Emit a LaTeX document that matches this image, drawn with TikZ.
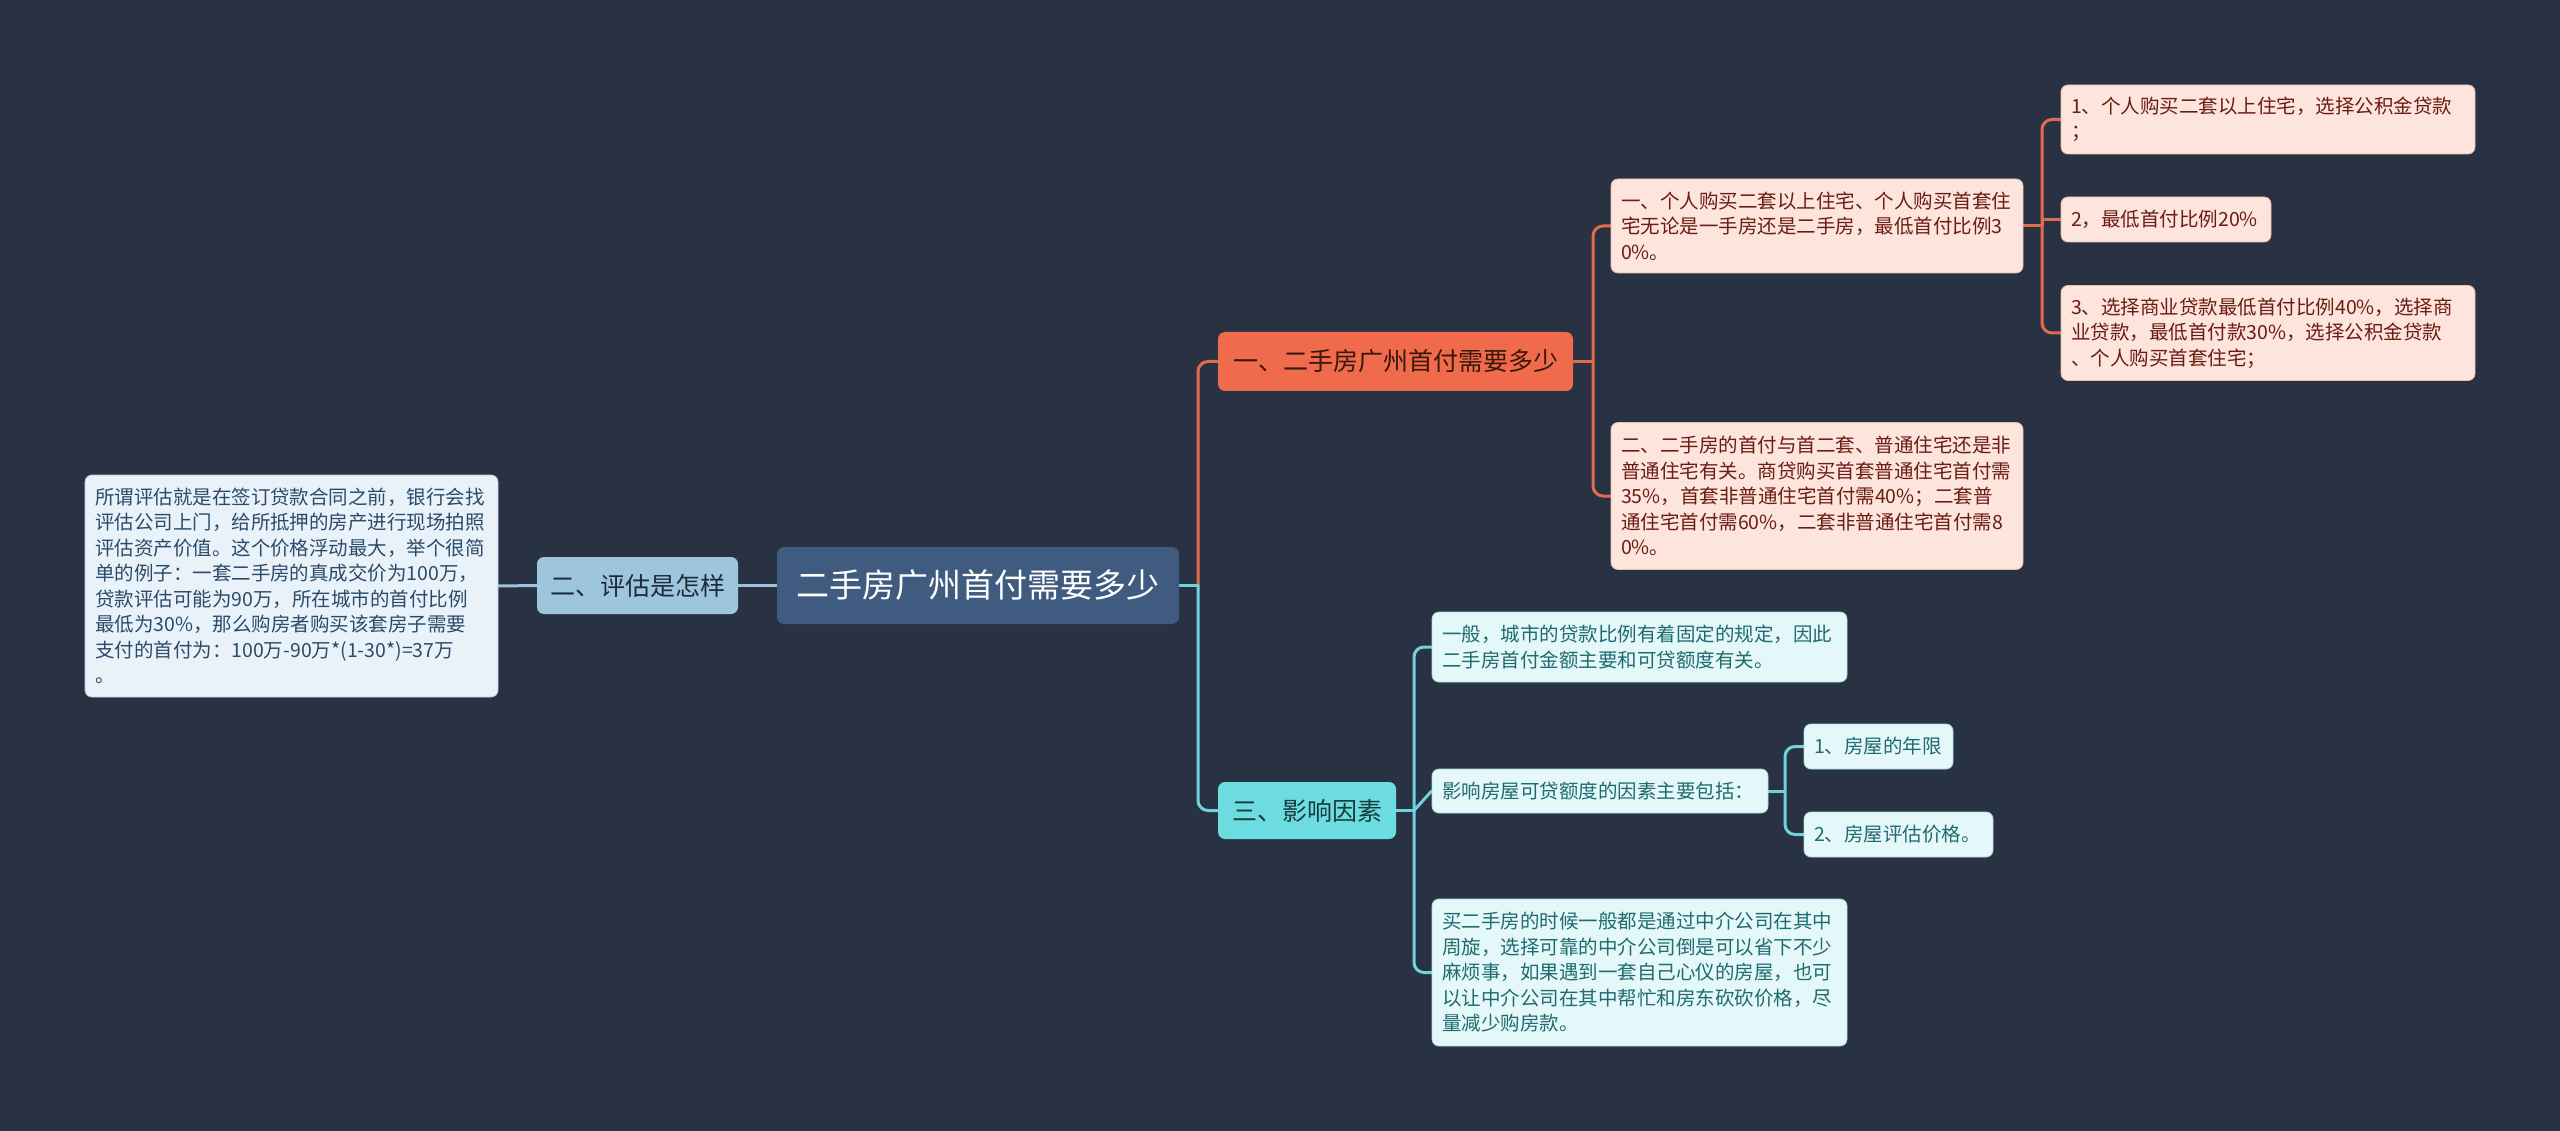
\documentclass[tikz,border=0pt]{standalone}
\usepackage{fontspec}
\usetikzlibrary{backgrounds}
\newfontfamily\cjk{Noto Sans CJK SC}
\definecolor{bg}{HTML}{283242}
\definecolor{rootfill}{HTML}{3F5B80}
\definecolor{bluefill}{HTML}{9EC5DE}
\definecolor{bluetext}{HTML}{1E2B3A}
\definecolor{paleblue}{HTML}{EAF2F9}
\definecolor{paleblueedge}{HTML}{B8CCDD}
\definecolor{palebluetext}{HTML}{2B4B6A}
\definecolor{coralfill}{HTML}{EF6B4B}
\definecolor{coraltext}{HTML}{3A160D}
\definecolor{pinkfill}{HTML}{FDE4DD}
\definecolor{pinkedge}{HTML}{E8BDB2}
\definecolor{pinktext}{HTML}{6B1D12}
\definecolor{cyanfill}{HTML}{6CDCE1}
\definecolor{cyantext}{HTML}{173A3E}
\definecolor{palecyan}{HTML}{E4F8F9}
\definecolor{palecyanedge}{HTML}{A9DDE0}
\definecolor{palecyantext}{HTML}{1F6B70}
\definecolor{coralline}{HTML}{E46A4C}
\definecolor{cyanline}{HTML}{6FD2DC}
\definecolor{blueline}{HTML}{9CC3DD}
\begin{document}
\begin{tikzpicture}[x=1pt,y=-1pt,
  base/.style={rounded corners=7pt, inner xsep=10pt, inner ysep=9pt},
  small/.style={base, align=left, font=\cjk\fontsize{19.5}{25.5}\selectfont},
  pinkbox/.style={small, fill=pinkfill, draw=pinkedge, line width=0.8pt, text=pinktext},
  cyanbox/.style={small, fill=palecyan, draw=palecyanedge, line width=0.8pt, text=palecyantext},
  leftbox/.style={small, fill=paleblue, draw=paleblueedge, line width=0.8pt, text=palebluetext},
  rootbox/.style={base, align=center, fill=rootfill, text=white, font=\cjk\fontsize{33}{40}\selectfont},
  mainbox/.style={base, align=center, font=\cjk\fontsize{25}{30}\selectfont},
  link/.style={line width=3pt, line cap=round},
  elbow/.style={link, rounded corners=10pt}
]
\useasboundingbox (0,0) rectangle (2560,1131);
\begin{scope}[on background layer]
\fill[bg] (0,0) rectangle (2560,1131);
\end{scope}

% ---- nodes ----
\node[rootbox, minimum width=402pt, minimum height=77pt] (root) at (978,585.5) {二手房广州首付需要多少};

\node[mainbox, fill=bluefill, text=bluetext, minimum width=201pt, minimum height=57pt] (n2) at (637.5,585.5) {二、评估是怎样};
\node[leftbox, text width=393pt, minimum height=222pt] (L) at (291.5,586) {所谓评估就是在签订贷款合同之前，银行会找\\评估公司上门，给所抵押的房产进行现场拍照\\评估资产价值。这个价格浮动最大，举个很简\\单的例子：一套二手房的真成交价为100万，\\贷款评估可能为90万，所在城市的首付比例\\最低为30\%，那么购房者购买该套房子需要\\支付的首付为：100万-90万*(1-30*)=37万\\。};

\node[mainbox, fill=coralfill, text=coraltext, minimum width=355pt, minimum height=59pt] (n1) at (1395.5,361.5) {一、二手房广州首付需要多少};
\node[pinkbox, text width=392pt, minimum height=94pt] (A1) at (1817,226) {一、个人购买二套以上住宅、个人购买首套住\\宅无论是一手房还是二手房，最低首付比例3\\0\%。};
\node[pinkbox, text width=392pt, minimum height=147pt] (A2) at (1817,496) {二、二手房的首付与首二套、普通住宅还是非\\普通住宅有关。商贷购买首套普通住宅首付需\\35\%，首套非普通住宅首付需40\%；二套普\\通住宅首付需60\%，二套非普通住宅首付需8\\0\%。};
\node[pinkbox, text width=394pt, minimum height=69pt] (B1) at (2268,119.5) {1、个人购买二套以上住宅，选择公积金贷款\\；};
\node[pinkbox, text width=190pt, minimum height=45pt] (B2) at (2166,219.5) {2，最低首付比例20\%};
\node[pinkbox, text width=394pt, minimum height=95pt] (B3) at (2268,333) {3、选择商业贷款最低首付比例40\%，选择商\\业贷款，最低首付款30\%，选择公积金贷款\\、个人购买首套住宅；};

\node[mainbox, fill=cyanfill, text=cyantext, minimum width=178pt, minimum height=57pt] (n3) at (1307,810.5) {三、影响因素};
\node[cyanbox, text width=395pt, minimum height=70pt] (C1) at (1639.5,647) {一般，城市的贷款比例有着固定的规定，因此\\二手房首付金额主要和可贷额度有关。};
\node[cyanbox, text width=316pt, minimum height=44pt] (C2) at (1600,791) {影响房屋可贷额度的因素主要包括：};
\node[cyanbox, text width=395pt, minimum height=147pt] (C3) at (1639.5,972.5) {买二手房的时候一般都是通过中介公司在其中\\周旋，选择可靠的中介公司倒是可以省下不少\\麻烦事，如果遇到一套自己心仪的房屋，也可\\以让中介公司在其中帮忙和房东砍砍价格，尽\\量减少购房款。};
\node[cyanbox, text width=129pt, minimum height=45pt] (D1) at (1878.5,746.5) {1、房屋的年限};
\node[cyanbox, text width=169pt, minimum height=45pt] (D2) at (1898.5,834.5) {2、房屋评估价格。};

% ---- spine points ----
\coordinate (s0) at (1198,585.5);
\coordinate (sA) at (1593,361.5);
\coordinate (sB) at (2042,226);
\coordinate (sB2) at (2042,219.5);
\coordinate (sC) at (1414,810.5);
\coordinate (sD) at (1785,791);

% ---- connectors ----
\begin{scope}[on background layer]
\draw[link, blueline] (root.west) -- (n2.east);
\draw[link, blueline] (n2.west) -- (L.east);

\draw[elbow, coralline] (s0) |- (n1.west);
\draw[link, coralline] (root.east) -- (s0);
\draw[elbow, cyanline] (s0) |- (n3.west);
\draw[link, cyanline] (root.east) -- (s0);

\draw[link, coralline] (n1.east) -- (sA);
\draw[elbow, coralline] (sA) |- (A1.west);
\draw[elbow, coralline] (sA) |- (A2.west);

\draw[link, coralline] (A1.east) -- (sB);
\draw[elbow, coralline] (sB) |- (B1.west);
\draw[link, coralline] (sB) -- (sB2) -- (B2.west);
\draw[elbow, coralline] (sB) |- (B3.west);

\draw[link, cyanline] (n3.east) -- (sC);
\draw[elbow, cyanline] (sC) |- (C1.west);
\draw[link, cyanline] (sC) -- (C2.west);
\draw[elbow, cyanline] (sC) |- (C3.west);

\draw[link, cyanline] (C2.east) -- (sD);
\draw[elbow, cyanline] (sD) |- (D1.west);
\draw[elbow, cyanline] (sD) |- (D2.west);
\end{scope}
\end{tikzpicture}
\end{document}
